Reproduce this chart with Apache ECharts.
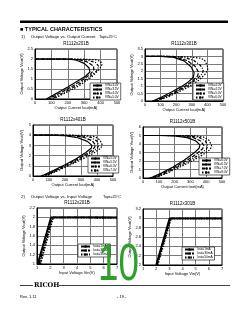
<!DOCTYPE html>
<html><head><meta charset="utf-8">
<script src="https://cdn.jsdelivr.net/npm/echarts@6/dist/echarts.min.js"></script>
<style>html,body{margin:0;padding:0;background:#fff}#c{width:240px;height:310px}</style>
</head><body><div id="c"></div>
<script>
// ---- Data: Output Voltage vs Output Current ----
const legendOC201 = ['VIN=3.0V','VIN=3.5V','VIN=4.0V','VIN=5.0V'];
const oc201_a = [[0,2.0],[100,2.0],[200,1.99],[250,1.95],[300,1.78],[330,1.55],[335,1.35],[310,1.15],[260,0.9],[200,0.6],[140,0.32],[90,0.1],[70,0]];
const oc201_b = [[0,2.0],[100,2.0],[200,1.99],[270,1.96],[320,1.85],[355,1.65],[360,1.48],[340,1.25],[290,0.95],[230,0.65],[165,0.35],[110,0.12],[85,0]];
const oc201_c = [[0,2.0],[150,2.0],[250,1.99],[320,1.95],[370,1.82],[390,1.62],[375,1.4],[325,1.05],[260,0.7],[190,0.38],[130,0.13],[100,0]];
const oc201_d = [[0,2.0],[200,2.0],[300,1.99],[370,1.96],[400,1.88],[408,1.72],[395,1.5],[345,1.1],[280,0.72],[210,0.4],[145,0.14],[110,0]];

const legendOC301 = ['VIN=4.0V','VIN=4.5V','VIN=5.0V','VIN=6.0V'];
const oc301_a = [[0,3.0],[100,3.0],[180,2.95],[250,2.7],[295,2.3],[315,1.9],[310,1.6],[280,1.3],[230,0.95],[170,0.6],[110,0.28],[60,0.05],[45,0]];
const oc301_b = [[0,3.0],[120,3.0],[200,2.95],[270,2.72],[320,2.35],[343,1.95],[338,1.7],[305,1.35],[250,0.95],[185,0.58],[120,0.25],[70,0.04],[55,0]];
const oc301_c = [[0,3.0],[150,3.0],[240,2.95],[310,2.75],[355,2.4],[374,2.1],[368,1.85],[330,1.45],[270,1.0],[200,0.6],[135,0.27],[80,0.05],[65,0]];
const oc301_d = [[0,3.0],[180,3.0],[280,2.97],[360,2.88],[385,2.7],[400,2.35],[402,2.1],[385,1.8],[345,1.4],[285,0.98],[215,0.6],[145,0.27],[90,0.05],[75,0]];

const legendOC401 = ['VIN=5.0V','VIN=5.5V','VIN=6.0V','VIN=7.0V'];
const oc401_a = [[0,4.0],[100,4.0],[200,3.95],[280,3.75],[340,3.4],[368,3.0],[365,2.75],[330,2.3],[270,1.7],[200,1.1],[130,0.55],[70,0.12],[50,0]];
const oc401_b = [[0,4.0],[150,4.0],[250,3.95],[320,3.78],[370,3.45],[390,3.05],[385,2.8],[350,2.3],[285,1.7],[210,1.1],[140,0.55],[80,0.12],[60,0]];
const oc401_c = [[0,4.0],[200,4.0],[290,3.96],[360,3.8],[398,3.45],[410,3.0],[402,2.75],[365,2.3],[300,1.7],[225,1.1],[150,0.55],[90,0.12],[70,0]];
const oc401_d = [[0,4.0],[250,4.0],[330,3.97],[390,3.85],[420,3.5],[432,3.05],[425,2.75],[385,2.3],[315,1.7],[235,1.1],[160,0.55],[100,0.12],[80,0]];

const legendOC501 = ['VIN=6.0V','VIN=6.5V','VIN=7.0V','VIN=8.0V'];
const oc501_a = [[0,5.0],[100,5.0],[200,4.95],[280,4.75],[335,4.35],[360,3.9],[355,3.5],[320,2.9],[260,2.1],[190,1.3],[120,0.6],[60,0.1],[40,0]];
const oc501_b = [[0,5.0],[150,5.0],[250,4.95],[320,4.75],[365,4.35],[385,3.85],[378,3.45],[340,2.85],[275,2.05],[200,1.25],[130,0.58],[70,0.1],[50,0]];
const oc501_c = [[0,5.0],[200,5.0],[290,4.96],[355,4.78],[395,4.35],[410,3.8],[402,3.4],[360,2.8],[290,2.0],[210,1.2],[140,0.55],[80,0.1],[60,0]];
const oc501_d = [[0,5.0],[250,5.0],[330,4.97],[385,4.8],[420,4.4],[435,3.75],[425,3.35],[380,2.75],[305,1.95],[225,1.2],[150,0.55],[90,0.1],[70,0]];

// ---- Data: Output Voltage vs Input Voltage ----
const legendIV = ['Iout=1mA','Iout=30mA','Iout=50mA'];
const iv201_a = [[1.05,1.0],[2.05,2.0],[7,2.0]];
const iv201_b = [[1.15,1.0],[2.12,2.0],[7,1.995]];
const iv201_c = [[1.25,1.0],[2.2,1.995],[7,1.99]];
const iv301_a = [[2.0,2.0],[3.02,3.0],[7,3.0]];
const iv301_b = [[2.05,2.0],[3.07,3.0],[7,2.997]];
const iv301_c = [[2.1,2.0],[3.12,2.995],[7,2.993]];

const titles = ['R1112x201B','R1112x301B','R1112x401B','R1112x501B','R1112x201B','R1112x301B'];

const FONT = 'Liberation Sans, Arial, sans-serif';
const styles4 = [{type:'solid',width:1.2},{type:[4,1.5],width:1.2},{type:[3,1.5,1,1.5],width:1.2},{type:[1.5,1.5],width:1.2}];
const styles3 = [{type:'solid',width:1.8},{type:[4,1,1,1],width:1.8},{type:[1.5,1.2],width:1.8}];

const charts = [
 {l:35,t:49,w:82,h:50, x:[0,500,100], y:[0,2.5,0.5], xname:'Output Current Iout(mA)', yname:'Output Voltage Vout(V)', leg:[90,83], names:legendOC201, data:[oc201_a,oc201_b,oc201_c,oc201_d], st:styles4},
 {l:145,t:49,w:78,h:52, x:[0,500,100], y:[0,3.5,0.5], xname:'Output Current Iout(mA)', yname:'Output Voltage Vout(V)', leg:[193,83], names:legendOC301, data:[oc301_a,oc301_b,oc301_c,oc301_d], st:styles4},
 {l:33,t:125,w:80,h:51, x:[0,500,100], y:[0,5,1], xname:'Output Current Iout(mA)', yname:'Output Voltage Vout(V)', leg:[88,156], names:legendOC401, data:[oc401_a,oc401_b,oc401_c,oc401_d], st:styles4},
 {l:143,t:127,w:79,h:51, x:[0,500,100], y:[0,6,1], xname:'Output Current Iout(mA)', yname:'Output Voltage Vout(V)', leg:[199,158], names:legendOC501, data:[oc501_a,oc501_b,oc501_c,oc501_d], st:styles4},
 {l:37,t:208,w:80,h:56, x:[1,7,1], y:[1,2.2,0.2], xname:'Input Voltage Vin(V)', yname:'Output Voltage Vout(V)', leg:[78,244], names:legendIV, data:[iv201_a,iv201_b,iv201_c], st:styles3},
 {l:143,t:209,w:79,h:56, x:[1,7,1], y:[2,3.2,0.2], xname:'Input Voltage Vin(V)', yname:'Output Voltage Vout(V)', leg:[182,247], names:legendIV, data:[iv301_a,iv301_b,iv301_c], st:styles3}
];

const option = {animation:false, backgroundColor:'#fff', grid:[], xAxis:[], yAxis:[], series:[], legend:[], title:[], graphic:[]};
const lab = {fontSize:4, color:'#000', fontFamily:FONT};
charts.forEach((c,i)=>{
  option.grid.push({left:c.l, top:c.t, width:c.w, height:c.h, show:true, borderColor:'#000', borderWidth:1, backgroundColor:'#fff'});
  option.xAxis.push({type:'value', gridIndex:i, min:c.x[0], max:c.x[1], interval:c.x[2],
    axisLine:{lineStyle:{color:'#000',width:1}}, axisTick:{show:false},
    axisLabel:Object.assign({margin:2}, lab), splitLine:{lineStyle:{color:'#7a7a7a',width:1}},
    name:c.xname, nameLocation:'middle', nameGap:7, nameTextStyle:lab});
  option.yAxis.push({type:'value', gridIndex:i, min:c.y[0], max:c.y[1], interval:c.y[2],
    axisLine:{lineStyle:{color:'#000',width:1}}, axisTick:{show:false},
    axisLabel:Object.assign({margin:2}, lab), splitLine:{lineStyle:{color:'#7a7a7a',width:1}},
    name:c.yname, nameLocation:'middle', nameGap:9, nameTextStyle:lab});
  option.title.push({text:titles[i], left:c.l + c.w/2, top:c.t-8, textAlign:'center',
    textStyle:{fontSize:4.5, fontWeight:'normal', color:'#000', fontFamily:FONT}, padding:0});
  const legNames = [];
  c.data.forEach((d,k)=>{
    const nm = 'c'+i+'_'+k;
    legNames.push(nm);
    option.series.push({type:'line', name:nm, xAxisIndex:i, yAxisIndex:i, data:d, symbol:'none', showSymbol:false,
      lineStyle:Object.assign({color:'#000'}, c.st[k]), itemStyle:{color:'#000'}, silent:true, z:3});
  });
  const names = c.names;
  option.legend.push({data:legNames, left:c.leg[0], top:c.leg[1], orient:'vertical', itemWidth:9, itemHeight:3, itemGap:1,
    padding:[1,2,1,2], borderColor:'#000', borderWidth:0.6, backgroundColor:'#fff', selectedMode:false,
    textStyle:{fontSize:3.2, color:'#000', fontFamily:FONT, padding:[0,0,0,-2]},
    formatter:(n)=>names[+n.split('_')[1]]});
});

const txt = (x,y,s,fs,extra)=>Object.assign({type:'text', left:x, top:y, style:{text:s, fontSize:fs, fill:'#000', fontFamily:FONT}}, extra||{});
option.graphic = [
  {type:'rect', shape:{x:20,y:20.5,width:208,height:2.5}, style:{fill:'#000'}},
  {type:'text', left:20, top:26, style:{text:'■ TYPICAL CHARACTERISTICS', fontSize:5.5, fontWeight:'bold', fill:'#000', fontFamily:FONT}},
  txt(21,35,'1)     Output Voltage vs. Output Current',4.3),
  txt(99,35,'Topt=25°C',3.8),
  txt(21,195,'2)     Output Voltage vs. Input Voltage',4.3),
  txt(103,195,'Topt=25°C',3.8),
  {type:'rect', shape:{x:20,y:285,width:210,height:0.8}, style:{fill:'#000'}},
  {type:'rect', shape:{x:33,y:282,width:26,height:6}, style:{fill:'#fff'}},
  {type:'text', left:34, top:282, style:{text:'RICOH', fontSize:6.5, fontWeight:'bold', fill:'#000', fontFamily:'DejaVu Serif, serif'}},
  txt(20,295,'Rev. 1.11',4),
  txt(117,295,'- 19 -',4),
  {type:'text', x:98, y:240, scaleX:0.72, scaleY:1, z:100, style:{text:'10', fontSize:51, fill:'#2e9e2e', fontFamily:'Liberation Sans, Arial, sans-serif'}}
];

const chart = echarts.init(document.getElementById('c'), null, {renderer:'canvas'});
chart.setOption(option);
</script></body></html>
